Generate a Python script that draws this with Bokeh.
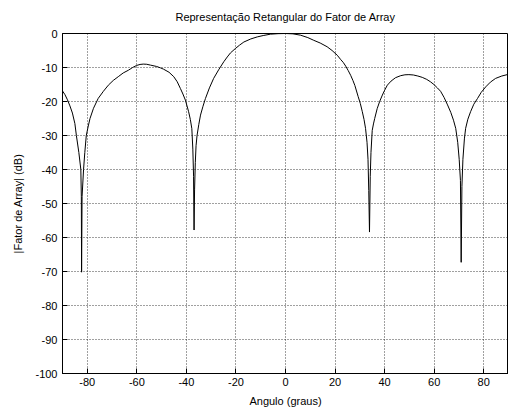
from bokeh.plotting import figure
from bokeh.models import Range1d, FixedTicker
from bokeh.embed import file_html
from bokeh.resources import INLINE

# Angle (degrees) and |Array Factor| (dB)
angle = [-90.0, -89.0, -88.0, -87.0, -86.0, -85.0, -84.4, -83.4, -82.6, -82.4,
         -82.3, -82.1, -81.5, -81.0, -80.4, -79.6, -78.9, -77.5, -75.6, -73.5,
         -71.5, -69.5, -67.5, -65.5, -63.4, -61.7, -60.1, -58.7, -57.4, -56.0,
         -54.5, -52.0, -50.5, -49.2, -47.0, -45.1, -43.7, -42.4, -41.4, -40.4,
         -39.1, -38.4, -37.8, -37.4, -37.1, -37.0, -36.9, -36.7, -36.4, -36.1,
         -35.7, -35.0, -34.3, -33.3, -32.3, -30.7, -29.0, -27.0, -24.9, -23.5,
         -22.2, -20.2, -18.5, -16.8, -14.0, -11.4, -9.0, -6.1, -3.0, 0.0,
         3.0, 6.1, 9.0, 11.4, 14.0, 16.8, 18.8, 20.9, 22.2, 23.3,
         24.3, 25.3, 26.3, 27.2, 28.0, 29.3, 30.2, 31.0, 31.7, 32.3,
         32.9, 33.3, 33.6, 33.9, 34.2, 34.5, 35.0, 35.5, 36.0, 37.0,
         38.0, 39.1, 40.0, 41.1, 42.6, 44.4, 46.5, 48.2, 49.8, 51.6,
         53.4, 55.2, 57.0, 58.5, 59.9, 61.3, 62.6, 64.0, 65.4, 66.7,
         67.8, 68.7, 69.5, 70.1, 70.6, 70.9, 71.2, 71.6, 72.2, 72.7,
         73.6, 74.7, 76.0, 77.5, 79.0, 80.8, 82.7, 84.8, 87.3, 90.0]
af_db = [-16.9, -18.0, -19.5, -21.3, -23.4, -26.5, -30.0, -35.0, -40.0, -48.0,
         -70.2, -48.0, -40.0, -35.0, -30.0, -27.2, -25.0, -22.0, -19.1, -17.0,
         -15.2, -13.8, -12.7, -11.6, -10.8, -10.0, -9.4, -9.1, -9.0, -9.05,
         -9.3, -9.7, -10.1, -10.5, -11.4, -12.7, -14.2, -16.2, -17.8, -19.6,
         -23.0, -25.3, -28.0, -34.0, -42.0, -51.0, -57.8, -46.0, -38.0, -33.0,
         -30.0, -26.8, -24.0, -21.4, -19.1, -16.0, -13.2, -10.7, -8.3, -6.9,
         -5.7, -4.4, -3.4, -2.5, -1.6, -1.0, -0.6, -0.2, -0.05, 0.0,
         -0.1, -0.5, -1.2, -2.0, -2.8, -3.9, -5.0, -6.4, -7.6, -8.5,
         -9.6, -10.9, -12.3, -13.8, -15.3, -18.5, -20.6, -23.0, -25.3, -27.9,
         -32.0, -37.0, -46.2, -58.4, -42.0, -35.0, -28.5, -26.6, -25.0, -22.1,
         -20.0, -18.1, -16.7, -15.2, -14.0, -13.0, -12.4, -12.15, -12.1, -12.2,
         -12.5, -12.9, -13.5, -14.2, -15.0, -16.0, -17.0, -18.8, -21.0, -23.2,
         -25.5, -27.9, -32.0, -37.0, -43.2, -67.3, -45.0, -37.0, -31.0, -27.9,
         -25.2, -23.0, -20.8, -19.1, -17.3, -15.7, -14.3, -13.2, -12.5, -12.0]

x_ticks = [-80, -60, -40, -20, 0, 20, 40, 60, 80]
y_ticks = [0, -10, -20, -30, -40, -50, -60, -70, -80, -90, -100]
x_tick_labels = ["-80", "-60", "-40", "-20", "0", "20", "40", "60", "80"]
y_tick_labels = ["0", "-10", "-20", "-30", "-40", "-50", "-60", "-70", "-80", "-90", "-100"]

FONT = "Liberation Sans"
FS = "11px"

p = figure(frame_width=446, frame_height=340,
           x_range=Range1d(-90, 90), y_range=Range1d(-100, 0),
           output_backend="svg", toolbar_location=None,
           min_border_left=62, min_border_right=0,
           min_border_top=33, min_border_bottom=35,
           background_fill_color="white", border_fill_color="white")

p.title.text = "Representação Retangular do Fator de Array"
p.title.align = "center"
p.title.vertical_align = "top"
p.title.text_font = FONT
p.title.text_font_size = FS
p.title.text_font_style = "normal"
p.title.text_color = "black"
p.title.standoff = 18

p.outline_line_color = "black"
p.outline_line_width = 1

for ax, ticks, labels in ((p.xaxis[0], x_ticks, x_tick_labels),
                          (p.yaxis[0], y_ticks, y_tick_labels)):
    ax.ticker = FixedTicker(ticks=ticks)
    ax.major_label_overrides = {t: s for t, s in zip(ticks, labels)}
    ax.major_tick_in = 5
    ax.major_tick_out = 0
    ax.minor_tick_line_color = None
    ax.axis_line_color = "black"
    ax.major_tick_line_color = "black"
    ax.major_label_text_font = FONT
    ax.major_label_text_font_size = FS
    ax.major_label_text_color = "black"
    ax.axis_label_text_font = FONT
    ax.axis_label_text_font_size = FS
    ax.axis_label_text_font_style = "normal"
    ax.axis_label_text_color = "black"

p.xaxis[0].axis_label = "Angulo (graus)"
p.yaxis[0].axis_label = "|Fator de Array| (dB)"
p.xaxis[0].major_label_standoff = 4
p.xaxis[0].axis_label_standoff = 6
p.yaxis[0].major_label_standoff = 5
p.yaxis[0].axis_label_standoff = 8

for g, ticks in ((p.xgrid[0], x_ticks), (p.ygrid[0], y_ticks)):
    g.ticker = FixedTicker(ticks=ticks)
    g.grid_line_color = "black"
    g.grid_line_alpha = 0.75
    g.grid_line_dash = "1 2"
    g.grid_line_width = 1

p.line(angle, af_db, line_color="black", line_width=1)

open("out.html", "w").write(file_html(p, INLINE))
